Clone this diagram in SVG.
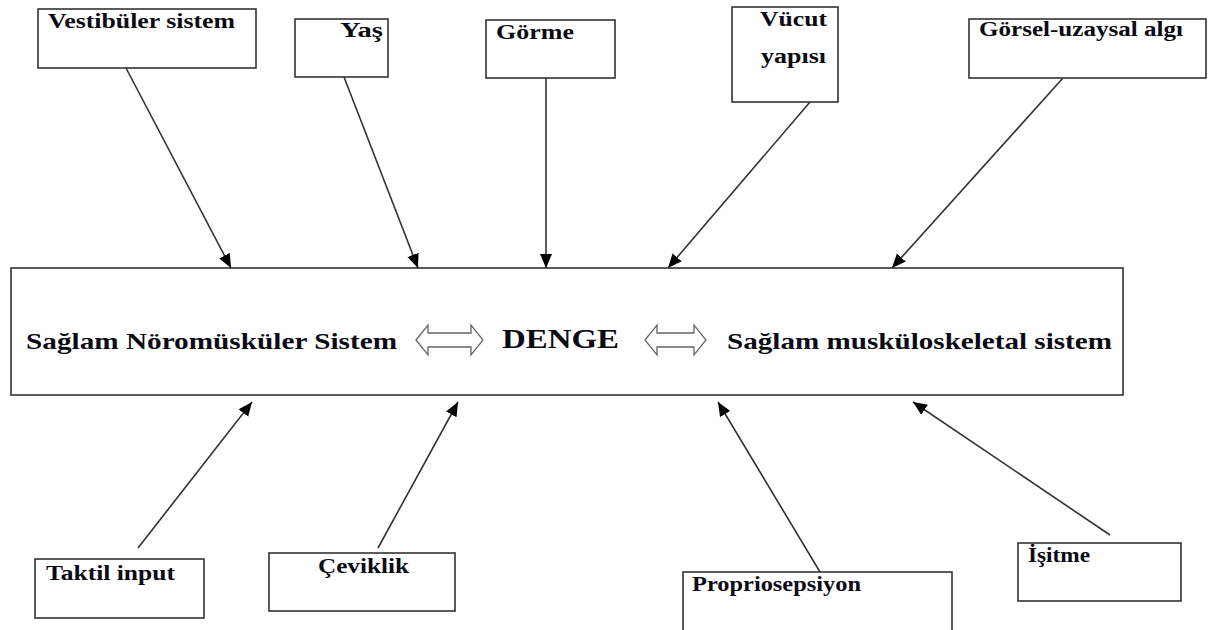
<svg xmlns="http://www.w3.org/2000/svg" width="1208" height="630" viewBox="0 0 1208 630">
<style>
.box{fill:#fff;stroke:#333;stroke-width:1.6}
.t{font-family:"Liberation Serif","DejaVu Serif","Noto Serif","Times New Roman",serif;font-weight:700;font-size:20px;fill:#0a0a14}
.big{font-size:24px}
.dg{font-size:27px}
.conn{stroke:#333;stroke-width:1.6;fill:none;marker-end:url(#ah)}
.darr{fill:#fff;stroke:#666;stroke-width:1.3}
</style>
<defs>
<marker id="ah" markerUnits="userSpaceOnUse" markerWidth="14" markerHeight="14" viewBox="0 0 14 14" refX="14" refY="7" orient="auto">
<path d="M0,1 L14,7 L0,13 Z" fill="#000"/>
</marker>
</defs>
<rect width="1208" height="630" fill="#fff"/>
<g id="main">
<rect class="box" x="11" y="268" width="1112" height="127"/>
<text class="t big" x="26" y="349" textLength="371" lengthAdjust="spacingAndGlyphs">Sağlam Nöromüsküler Sistem</text>
<path class="darr" d="M416,340 L428,325 L428,333 L471,333 L471,325 L483,340 L471,355 L471,347 L428,347 L428,355 Z"/>
<text class="t dg" x="502" y="348" textLength="117" lengthAdjust="spacingAndGlyphs">DENGE</text>
<path class="darr" d="M645,340 L657,325 L657,333 L694,333 L694,325 L706,340 L694,355 L694,347 L657,347 L657,355 Z"/>
<text class="t big" x="727" y="349" textLength="385" lengthAdjust="spacingAndGlyphs">Sağlam musküloskeletal sistem</text>
</g>
<g id="vestibuler">
<rect class="box" x="38" y="9" width="218" height="59"/>
<text class="t" x="48" y="28" textLength="187" lengthAdjust="spacingAndGlyphs">Vestibüler sistem</text>
</g>
<g id="yas">
<rect class="box" x="295" y="19" width="93" height="58"/>
<text class="t" x="340" y="37" textLength="43" lengthAdjust="spacingAndGlyphs">Yaş</text>
</g>
<g id="gorme">
<rect class="box" x="486" y="20" width="129" height="58"/>
<text class="t" x="496" y="39" textLength="78" lengthAdjust="spacingAndGlyphs">Görme</text>
</g>
<g id="vucut">
<rect class="box" x="732" y="7" width="106" height="95"/>
<text class="t" x="760" y="26" textLength="67" lengthAdjust="spacingAndGlyphs">Vücut</text>
<text class="t" x="761" y="63" textLength="65" lengthAdjust="spacingAndGlyphs">yapısı</text>
</g>
<g id="gorsel">
<rect class="box" x="969" y="19" width="237" height="59"/>
<text class="t" x="979" y="36" textLength="204" lengthAdjust="spacingAndGlyphs">Görsel-uzaysal algı</text>
</g>
<g id="taktil">
<rect class="box" x="35" y="559" width="169" height="59"/>
<text class="t" x="46" y="580" textLength="129" lengthAdjust="spacingAndGlyphs">Taktil input</text>
</g>
<g id="ceviklik">
<rect class="box" x="269" y="553" width="186" height="58"/>
<text class="t" x="318" y="573" textLength="91" lengthAdjust="spacingAndGlyphs">Çeviklik</text>
</g>
<g id="proprio">
<rect class="box" x="683" y="572" width="269" height="70"/>
<text class="t" x="692" y="591" textLength="169" lengthAdjust="spacingAndGlyphs">Propriosepsiyon</text>
</g>
<g id="isitme">
<rect class="box" x="1018" y="543" width="163" height="58"/>
<text class="t" x="1028" y="562" textLength="62" lengthAdjust="spacingAndGlyphs">İşitme</text>
</g>
<g id="connectors">
<line class="conn" x1="126" y1="68" x2="231" y2="268"/>
<line class="conn" x1="344" y1="77" x2="418" y2="268"/>
<line class="conn" x1="546" y1="78" x2="546" y2="268"/>
<line class="conn" x1="810" y1="102" x2="668" y2="268"/>
<line class="conn" x1="1063" y1="78" x2="892" y2="268"/>
<line class="conn" x1="138" y1="548" x2="252" y2="402"/>
<line class="conn" x1="378" y1="548" x2="458" y2="402"/>
<line class="conn" x1="820" y1="572" x2="718" y2="402"/>
<line class="conn" x1="1110" y1="535" x2="913" y2="402"/>
</g>
</svg>
